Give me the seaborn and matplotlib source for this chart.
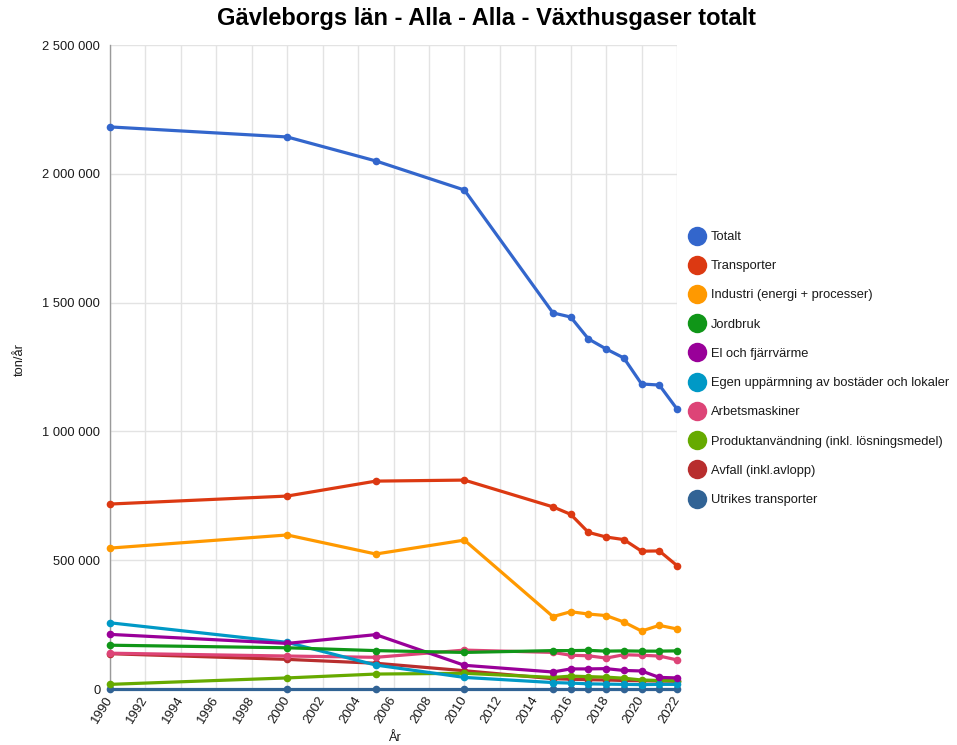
import numpy as np
import pandas as pd
import matplotlib
matplotlib.use("Agg")
import matplotlib.pyplot as plt
from matplotlib.lines import Line2D
from matplotlib.ticker import FuncFormatter, MultipleLocator
import seaborn as sns

years = [1990, 2000, 2005, 2010, 2015, 2016, 2017, 2018, 2019, 2020, 2021, 2022]

series_names = [
    "Totalt",
    "Transporter",
    "Industri (energi + processer)",
    "Jordbruk",
    "El och fjärrvärme",
    "Egen uppärmning av bostäder och lokaler",
    "Arbetsmaskiner",
    "Produktanvändning (inkl. lösningsmedel)",
    "Avfall (inkl.avlopp)",
    "Utrikes transporter",
]

totalt = [2182000, 2143000, 2050000, 1937000, 1460000, 1444000, 1359000, 1320000, 1285000, 1184000, 1180000, 1087000]
transporter = [718000, 749000, 807000, 811000, 707000, 678000, 608000, 590000, 580000, 535000, 536000, 479000]
industri = [547000, 598000, 524000, 578000, 281000, 300000, 291000, 285000, 260000, 225000, 247000, 233000]
jordbruk = [170000, 160000, 149000, 142000, 149000, 149000, 150000, 147000, 148000, 147000, 147000, 148000]
el_fjarrvarme = [212000, 177000, 211000, 92000, 66000, 78000, 78000, 79000, 72000, 70000, 45000, 43000]
egen_uppvarmning = [257000, 181000, 93000, 45000, 25000, 23000, 20000, 19000, 18000, 17000, 18000, 18000]
arbetsmaskiner = [139000, 128000, 123000, 151000, 142000, 131000, 129000, 120000, 133000, 131000, 128000, 113000]
produktanvandning = [18000, 43000, 58000, 61000, 45000, 50000, 48000, 46000, 42000, 35000, 33000, 32000]
avfall = [137000, 115000, 100000, 71000, 40000, 38000, 36000, 35000, 33000, 32000, 31000, 30000]
utrikes = [0, 0, 0, 0, 0, 0, 0, 0, 0, 0, 0, 0]

values = [totalt, transporter, industri, jordbruk, el_fjarrvarme, egen_uppvarmning,
          arbetsmaskiner, produktanvandning, avfall, utrikes]

colors = ["#3366cc", "#dc3912", "#ff9900", "#109618", "#990099",
          "#0099c6", "#dd4477", "#66aa00", "#b82e2e", "#316395"]

y_ticks = [0, 500000, 1000000, 1500000, 2000000, 2500000]

rows = []
for name, vals in zip(series_names, values):
    for yr, v in zip(years, vals):
        rows.append({"År": yr, "ton/år": v, "Serie": name})
df = pd.DataFrame(rows)

sns.set_theme(style="white")
plt.rcParams["font.family"] = ["Liberation Sans", "DejaVu Sans"]

fig = plt.figure(figsize=(9.57, 7.45), dpi=100)
ax = fig.add_axes([110 / 957, 1 - 689 / 745, (677 - 110) / 957, (689 - 45) / 745])

palette = dict(zip(series_names, colors))
sns.lineplot(data=df, x="År", y="ton/år", hue="Serie", hue_order=series_names[::-1],
             palette=palette, marker="o", markersize=5.5, markeredgewidth=0,
             linewidth=2.3, legend=False, ax=ax, zorder=3)
for ln in ax.lines:
    ln.set_clip_on(False)

ax.set_xlim(1990, 2022)
ax.set_ylim(0, 2500000)
ax.xaxis.set_major_locator(MultipleLocator(2))
ax.set_yticks(y_ticks)
ax.yaxis.set_major_formatter(FuncFormatter(lambda v, p: f"{int(v):,}".replace(",", " ")))

ax.grid(True, color="#e3e3e3", linewidth=1, zorder=0)
for s in ["top", "right"]:
    ax.spines[s].set_visible(False)
ax.spines["left"].set_color("#9a9a9a")
ax.spines["left"].set_linewidth(1)
ax.spines["bottom"].set_color("#333333")
ax.spines["bottom"].set_linewidth(1)

ax.tick_params(axis="y", length=5, width=1, color="#cccccc", labelsize=9.3, labelcolor="#1a1a1a", pad=2)
ax.tick_params(axis="x", length=0, labelsize=9.5, labelcolor="#1a1a1a", pad=6)
plt.setp(ax.get_xticklabels(), rotation=58, ha="right", va="center", rotation_mode="anchor")

ax.set_xlabel("År", fontsize=9.3, color="#1a1a1a")
ax.set_ylabel("ton/år", fontsize=9.3, color="#1a1a1a")
ax.xaxis.label.set_va("center")
ax.yaxis.label.set_va("center")
ax.xaxis.set_label_coords((394 - 110) / 567, -(738 - 689) / 644)
ax.yaxis.set_label_coords(-(110 - 20) / 567, (689 - 360) / 644)

fig.suptitle("Gävleborgs län - Alla - Alla - Växthusgaser totalt", x=487 / 957, y=1 - 19 / 745,
             va="center", fontsize=17, fontweight="bold", color="#000000")

handles = [Line2D([0], [0], marker="o", linestyle="none", markersize=14,
                  markerfacecolor=c, markeredgewidth=0) for c in colors]
leg = fig.legend(handles, series_names, loc="upper left",
                 bbox_to_anchor=(689 / 957, 1 - 231 / 745), frameon=False,
                 fontsize=9.3, handlelength=1.2, handletextpad=0.5,
                 labelspacing=1.33, borderpad=0, borderaxespad=0)
for t in leg.get_texts():
    t.set_color("#1a1a1a")

fig.savefig("out.png", dpi=100)
